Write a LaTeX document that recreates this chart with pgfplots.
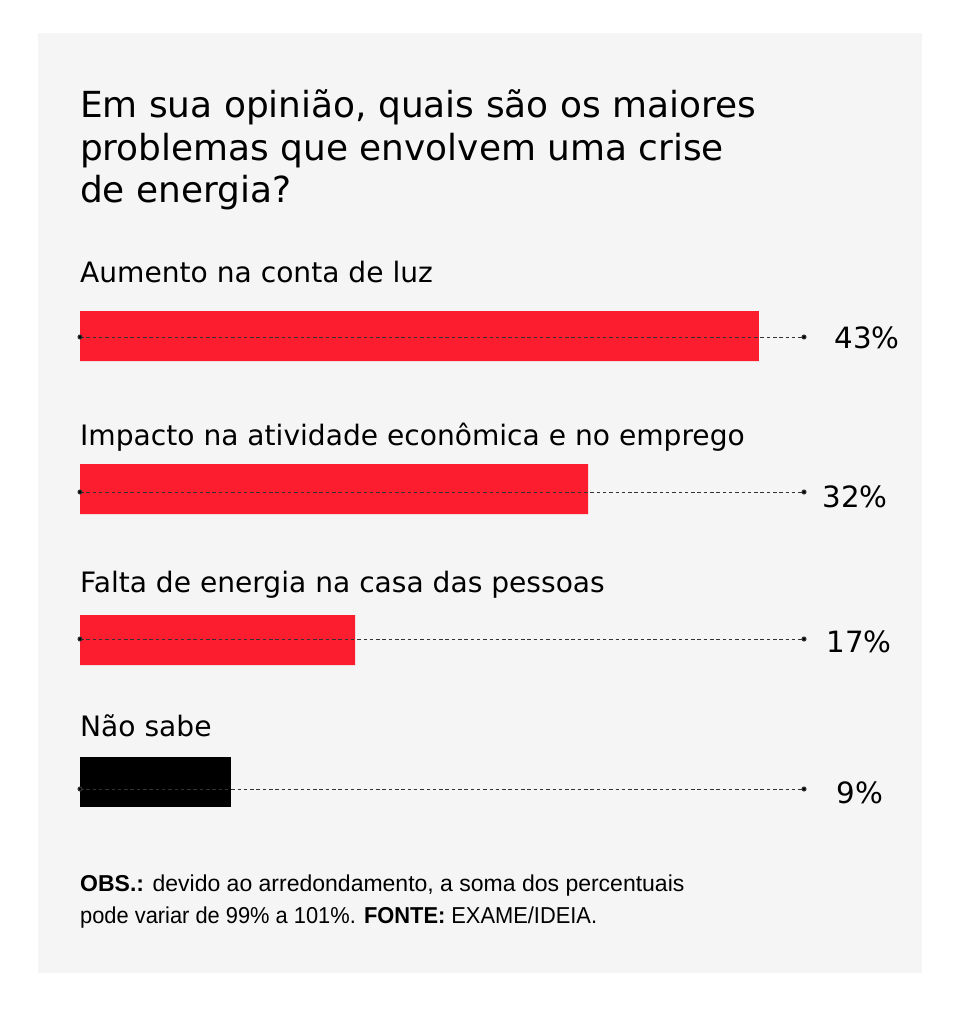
\documentclass[border=0pt]{standalone}
\usepackage{pgfplots}
\pgfplotsset{compat=1.18}
\usepackage{fontspec}
\setmainfont{DejaVu Sans}
\newfontfamily\notefont{Liberation Sans}
\definecolor{panel}{RGB}{245,245,245}
\definecolor{barred}{RGB}{252,30,46}
\begin{document}
\begin{tikzpicture}[x=1pt,y=-1pt]
\fill[white] (0,0) rectangle (958,1023);
\fill[panel] (38,33) rectangle (922,973);
% title
\begin{scope}[every node/.style={anchor=base west,inner sep=0pt,font=\fontsize{35.9}{43}\selectfont}]
\node at (80,117) {Em sua opinião, quais são os maiores};
\node at (80,160) {problemas que envolvem uma crise};
\node at (80,202) {de energia?};
\end{scope}
% category labels
\begin{scope}[every node/.style={anchor=base west,inner sep=0pt,font=\fontsize{28.1}{34}\selectfont}]
\node at (80,282) {Aumento na conta de luz};
\node at (80,445) {Impacto na atividade econômica e no emprego};
\node at (80,592) {Falta de energia na casa das pessoas};
\node at (80,736) {Não sabe};
\end{scope}
\begin{axis}[at={(80pt,-300pt)}, anchor=north west, scale only axis,
  width=776.5pt, height=520pt, xmin=0, xmax=50, ymin=300, ymax=820,
  y dir=reverse, hide axis, clip=false]
\addplot[xbar, bar shift=0pt, bar width=50, fill=barred, draw=none,
  x filter/.expression={x+0.72}] coordinates {(43,336) (32,489) (17,640)};
\addplot[xbar, bar shift=0pt, bar width=50, fill=black, draw=none,
  x filter/.expression={x+0.72}] coordinates {(9,782)};
\pgfplotsset{dotl/.style={color=black!80, line width=1pt, dash pattern=on 3.5pt off 2.8pt,
  mark=*, mark size=2pt, mark options={solid,fill=black}}}
\addplot[dotl] coordinates {(0,337) (46.62,337)};
\addplot[dotl] coordinates {(0,492) (46.62,492)};
\addplot[dotl] coordinates {(0,639) (46.62,639)};
\addplot[dotl] coordinates {(0,789) (46.62,789)};
\end{axis}
% values
\begin{scope}[every node/.style={anchor=base,inner sep=0pt,font=\fontsize{29.3}{35}\selectfont}]
\node at (867,348) {43\%};
\node at (855,507) {32\%};
\node at (859,652) {17\%};
\node at (860,803) {9\%};
\end{scope}
% footnote
\begin{scope}[every node/.style={anchor=base west,inner sep=0pt,font=\notefont\fontsize{23}{32}\selectfont}]
\node at (80,891) {\textbf{OBS.:} devido ao arredondamento, a soma dos percentuais};
\node at (80,923) {\addfontfeature{FakeStretch=0.95}pode variar de 99\% a 101\%. \textbf{FONTE:} EXAME/IDEIA.};
\end{scope}
\end{tikzpicture}
\end{document}
